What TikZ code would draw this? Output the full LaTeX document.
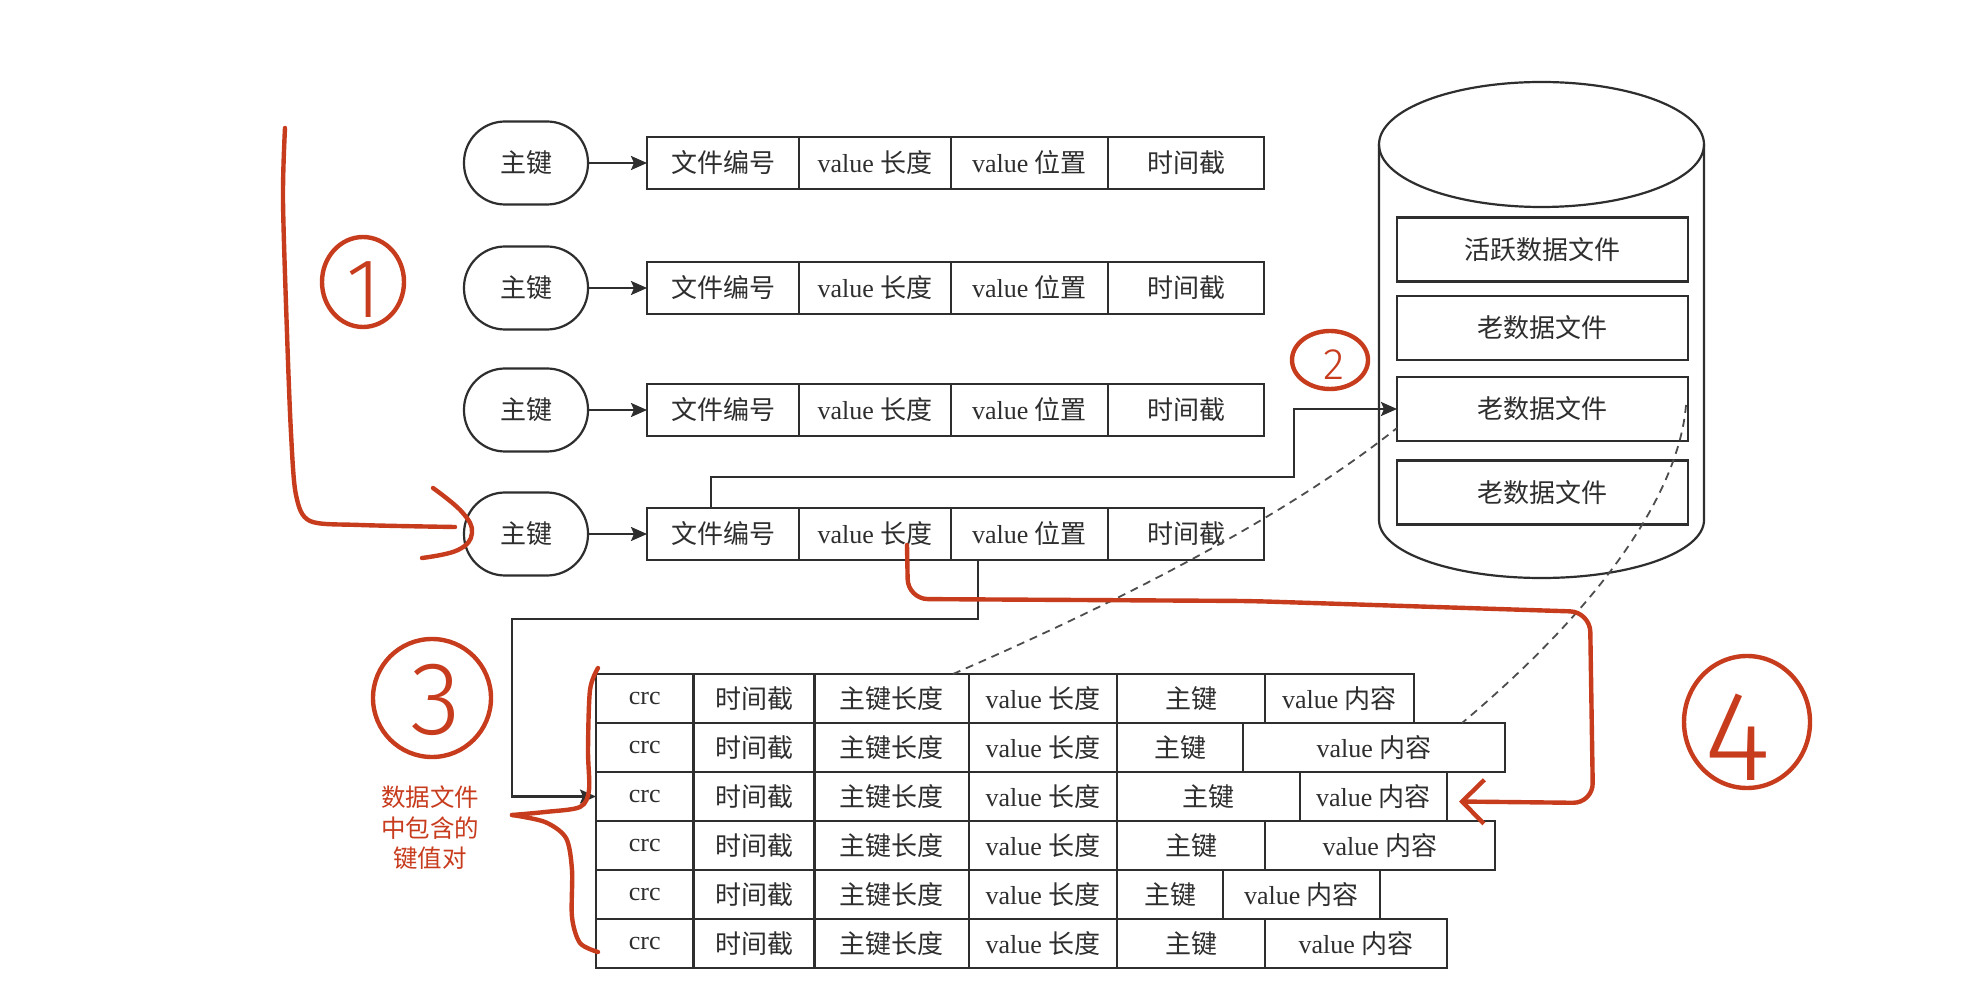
\documentclass[tikz,border=0pt]{standalone}
\usepackage{fontspec}
\setmainfont{Liberation Serif}
\newfontfamily\cjk{Noto Sans CJK SC}
\newfontfamily\redfont{Noto Sans CJK SC}
\IfFontExistsTF{Fira Sans Light}{\newfontfamily\handfont{Fira Sans Light}}{%
 \IfFontExistsTF{Lato Light}{\newfontfamily\handfont{Lato Light}}{%
  \IfFontExistsTF{Open Sans Light}{\newfontfamily\handfont{Open Sans Light}}{%
   \IfFontExistsTF{Poppins Light}{\newfontfamily\handfont{Poppins Light}}{%
    \newfontfamily\handfont{Liberation Sans}}}}}
\usetikzlibrary{arrows.meta,calc,shapes.geometric}
\definecolor{ink}{HTML}{2E2E2E}
\definecolor{hand}{RGB}{200,60,30}
\newcommand{\zh}[1]{{\cjk #1}}
\begin{document}
\begin{tikzpicture}[x=0.5pt, y=-0.5pt, font=\fontsize{13pt}{15pt}\selectfont,
  cell/.style={draw=ink, line width=1.1pt, inner sep=0pt, outer sep=0pt, text=ink, minimum height=26pt},
  bcell/.style={cell, minimum height=24.5pt},
  keynode/.style={cell, rounded corners=20.5pt, minimum width=62pt, minimum height=41.5pt},
  arr/.style={draw=ink, line width=1.1pt, -{Stealth[length=8pt,width=7pt,inset=1.5pt]}},
  dashline/.style={draw=ink!85, line width=0.9pt, dash pattern=on 4pt off 3pt},
  handline/.style={draw=hand, line width=2.2pt, line cap=round, line join=round},
  handcircle/.style={ellipse, draw=hand, line width=2.2pt, inner sep=0pt},
  handnum/.style={text=hand, inner sep=0pt}]
\fill[white] (0,0) rectangle (1986,988);
\useasboundingbox (0,0) rectangle (1986,988);

% index rows
\foreach \r/\y in {1/163,2/288,3/410,4/534}{
  \node[keynode] (k\r) at (526,\y) {\zh{主键}};
  \node[cell, minimum width=76pt] (f\r) at (723,\y) {\zh{文件编号}};
  \node[cell, minimum width=76pt] (l\r) at (875,\y) {value \zh{长度}};
  \node[cell, minimum width=78.5pt] (p\r) at (1029.5,\y) {value \zh{位置}};
  \node[cell, minimum width=78pt] (t\r) at (1186,\y) {\zh{时间截}};
  \draw[arr] (k\r) -- (f\r);
}

% cylinder
\draw[ink, line width=1.1pt] (1379,144.5) -- (1379,520) arc[start angle=180, end angle=360, x radius=81.25pt, y radius=29pt] -- (1704,144.5);
\draw[ink, line width=1.1pt] (1541.5,144.5) ellipse [x radius=81.25pt, y radius=31.25pt];
\node[cell, minimum width=145.5pt, minimum height=32pt] (d1) at (1542.5,249.5) {\zh{活跃数据文件}};
\node[cell, minimum width=145.5pt, minimum height=32pt] (d2) at (1542.5,328) {\zh{老数据文件}};
\node[cell, minimum width=145.5pt, minimum height=32pt] (d3) at (1542.5,409) {\zh{老数据文件}};
\node[cell, minimum width=145.5pt, minimum height=32pt] (d4) at (1542.5,492.5) {\zh{老数据文件}};

% data file records
\foreach \i/\b/\r/\s in {1/1265/1414/8, 2/1243/1505/0, 3/1300/1447/25, 4/1265/1495/0, 5/1223/1380/0, 6/1265/1447/8}{
  \pgfmathsetmacro\yy{698.5+49*(\i-1)}
  \pgfmathsetmacro\cf{(1117+\b)/2}
  \pgfmathsetmacro\wf{(\b-1117)/2}
  \pgfmathsetmacro\cs{(\b+\r)/2}
  \pgfmathsetmacro\ws{(\r-\b)/2}
  \node[bcell, minimum width=48.75pt] (crc\i) at (644.75,\yy) {crc};
  \node[bcell, minimum width=60.5pt] (ts\i) at (754,\yy) {\zh{时间截}};
  \node[bcell, minimum width=77.3pt] (kl\i) at (891.7,\yy) {\zh{主键长度}};
  \node[bcell, minimum width=74pt] (vl\i) at (1043,\yy) {value \zh{长度}};
  \node[bcell, minimum width=\wf pt] (key\i) at (\cf,\yy) {\zh{主键}\hspace{\s pt}};
  \node[bcell, minimum width=\ws pt] (val\i) at (\cs,\yy) {value \zh{内容}};
}

% connectors
\coordinate (cA) at (1294,477);
\coordinate (cB) at (512,619);
\draw[arr] ([xshift=-6pt]f4.north) |- (cA) |- (d3.west);
\draw[arr] ([xshift=-25.75pt]p4.south) |- (cB) |- (crc3.west);
\draw[dashline] ([xshift=-8pt]kl1.north east) .. controls (1151,588) and (1299,506) .. ($(d3.south west)+(0,-13)$);
\draw[dashline] ($(d3.east)+(-2,-4)$) .. controls (1680,480) and (1620,590) .. ([xshift=44pt]val2.north);

% hand annotations
\draw[handline] plot[smooth, tension=0.5] coordinates {(285,128) (283,200) (287,333) (291,433) (296,495) (310,521) (360,525) (455,527)};
\draw[handline] plot[smooth, tension=0.7] coordinates {(433,488) (462,512) (472,533) (458,550) (422,558)};
\node[handcircle, minimum width=41pt, minimum height=45pt] (c1) at (363,282) {};
\node[handnum, font=\handfont\fontsize{42pt}{42pt}\selectfont] (n1) at (364,290) {1};

\node[handcircle, minimum width=38pt, minimum height=29pt] (c2) at (1330,360) {};
\node[handnum, font=\handfont\fontsize{22pt}{22pt}\selectfont] (n2) at (1334,365) {2};

\node[handcircle, minimum width=59pt, minimum height=59pt] (c3) at (432,698) {};
\node[handnum, font=\handfont\fontsize{52pt}{52pt}\selectfont] (n3) at (436,700) {3};

\node[handcircle, minimum width=63pt, minimum height=66pt] (c4) at (1747,722) {};
\node[handnum, font=\handfont\fontsize{64pt}{64pt}\selectfont] (n4) at (1738,737) {4};

\node[text=hand, font=\redfont\fontsize{12.25pt}{15.25pt}\selectfont, align=center] (rt) at (430,828) {数据文件\\中包含的\\键值对};

\draw[handline] plot[smooth, tension=0.5] coordinates {(598,668) (590,690) (588,750) (589,790) (580,807) (545,812) (512,815)};
\draw[handline] plot[smooth, tension=0.5] coordinates {(512,815) (545,822) (566,838) (572,870) (572,917) (580,943) (598,952)};

\coordinate (s4) at ($(l4.center)+(32,11)$);
\coordinate (e4) at ($(val3.east)+(12,5)$);
\draw[handline, rounded corners=10pt, -{Straight Barb[length=11pt,width=22pt]}] (s4) -- (908,599) -- (1250,601) -- (1590,612) -- (1593,803) -- (e4);
\end{tikzpicture}
\end{document}
